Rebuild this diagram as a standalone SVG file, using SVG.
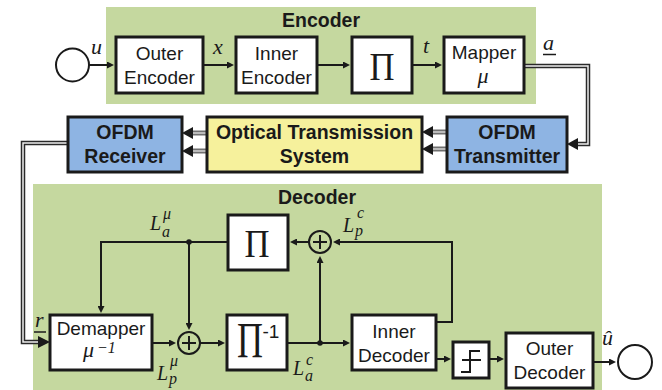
<svg xmlns="http://www.w3.org/2000/svg" width="662" height="390" viewBox="0 0 662 390">
<defs>
<style>
.bg{fill:#c5d89f;stroke:none}
.box{fill:#fff;stroke:#1a1a1a;stroke-width:3}
.blue{fill:#8eb4e3;stroke:#1a1a1a;stroke-width:3}
.yel{fill:#f6f19c;stroke:#1a1a1a;stroke-width:3}
.ln{fill:none;stroke:#1a1a1a;stroke-width:2}
.dbo{fill:none;stroke:#2a2a2a;stroke-width:4.5}
.dbi{fill:none;stroke:#eeeeee;stroke-width:1.5}
.gro{fill:none;stroke:#707070;stroke-width:5}
.gri{fill:none;stroke:#d4d4d4;stroke-width:1.5}
.t{font-family:"Liberation Sans",Arial,sans-serif;font-size:19px;fill:#1a1a1a;text-anchor:middle}
.b{font-family:"Liberation Sans",Arial,sans-serif;font-size:19.5px;font-weight:bold;fill:#1a1a1a;text-anchor:middle}
.m{font-family:"Liberation Serif","Times New Roman",serif;font-style:italic;font-size:22px;fill:#1a1a1a}
.L{font-family:"Liberation Serif","Times New Roman",serif;font-style:italic;font-size:20px;fill:#1a1a1a}
.ms{font-family:"Liberation Serif","Times New Roman",serif;font-style:italic;font-size:16px;fill:#1a1a1a}
.pi{font-family:"Liberation Serif","Times New Roman",serif;fill:#1a1a1a;text-anchor:middle}
</style>
<marker id="ar" viewBox="0 0 10 10" refX="0" refY="5" markerWidth="9" markerHeight="7" markerUnits="userSpaceOnUse" orient="auto"><path d="M0,0L10,5L0,10z" fill="#1a1a1a"/></marker>
</defs>

<rect class="bg" x="106" y="7" width="430" height="97"/>
<rect class="bg" x="33" y="184" width="569" height="206"/>
<text class="b" x="321" y="27">Encoder</text>
<text class="b" x="317" y="204">Decoder</text>

<g id="connectors">
<path class="ln" d="M89,65H107" marker-end="url(#ar)"/>
<path class="ln" d="M203,65H227" marker-end="url(#ar)"/>
<path class="ln" d="M317,65H343" marker-end="url(#ar)"/>
<path class="ln" d="M412,65H435" marker-end="url(#ar)"/>
<path class="dbo" d="M524,66H588V144H578"/>
<path class="dbi" d="M524,66H588V144H578"/>
<polygon points="578,138 567,144 578,150" fill="#1a1a1a"/>
<path class="gro" d="M447,132H433M447,149H433M207,133H193M207,151H193"/>
<path class="gri" d="M447,132H433M447,149H433M207,133H193M207,151H193"/>
<polygon points="433,126 422,132 433,138" fill="#1a1a1a"/>
<polygon points="433,143 422,149 433,155" fill="#1a1a1a"/>
<polygon points="193,127 182,133 193,139" fill="#1a1a1a"/>
<polygon points="193,145 182,151 193,157" fill="#1a1a1a"/>
<path class="dbo" d="M68,143H23V342H39"/>
<path class="dbi" d="M68,143H23V342H39"/>
<polygon points="38,336 50,342 38,348" fill="#1a1a1a"/>
<path class="ln" d="M152,343H169" marker-end="url(#ar)"/>
<path class="ln" d="M200,343H218" marker-end="url(#ar)"/>
<path class="ln" d="M287,343H343" marker-end="url(#ar)"/>
<path class="ln" d="M320,343V263" marker-end="url(#ar)"/>
<path class="ln" d="M436,322H452V242H340" marker-end="url(#ar)"/>
<path class="ln" d="M309,242H297" marker-end="url(#ar)"/>
<path class="ln" d="M228,242H101V306" marker-end="url(#ar)"/>
<path class="ln" d="M189,242V323" marker-end="url(#ar)"/>
<circle cx="189" cy="242" r="2.8" fill="#1a1a1a"/>
<circle cx="320" cy="343" r="2.8" fill="#1a1a1a"/>
<path class="ln" d="M436,359H444" marker-end="url(#ar)"/>
<path class="ln" d="M489,359H497" marker-end="url(#ar)"/>
<path class="ln" d="M593,362H609" marker-end="url(#ar)"/>
</g>

<g id="source"><circle cx="72.5" cy="65" r="16.5" fill="#fff" stroke="#1a1a1a" stroke-width="2"/></g>
<g id="outer-encoder"><rect class="box" x="116" y="37" width="87" height="56"/><text class="t" x="159.5" y="60">Outer</text><text class="t" x="159.5" y="84">Encoder</text></g>
<g id="inner-encoder"><rect class="box" x="236" y="37" width="81" height="56"/><text class="t" x="276.5" y="60">Inner</text><text class="t" x="276.5" y="84">Encoder</text></g>
<g id="interleaver"><rect class="box" x="352" y="37" width="60" height="56"/><text class="pi" x="382" y="80" font-size="40" textLength="25" lengthAdjust="spacingAndGlyphs">Π</text></g>
<g id="mapper"><rect class="box" x="444" y="37" width="80" height="56"/><text class="t" x="484" y="59">Mapper</text><text class="m" x="483" y="83" text-anchor="middle" font-size="23">μ</text></g>
<g id="ofdm-tx"><rect class="blue" x="447" y="117" width="120" height="55"/><text class="b" x="507" y="139">OFDM</text><text class="b" x="507" y="163">Transmitter</text></g>
<g id="optical"><rect class="yel" x="207" y="117" width="215" height="55"/><text class="b" x="314.5" y="139">Optical Transmission</text><text class="b" x="314.5" y="163">System</text></g>
<g id="ofdm-rx"><rect class="blue" x="68" y="117" width="114" height="55"/><text class="b" x="125" y="139">OFDM</text><text class="b" x="125" y="163">Receiver</text></g>
<g id="demapper"><rect class="box" x="50" y="315" width="102" height="55"/><text class="t" x="101" y="335">Demapper</text><text class="m" x="83" y="357" font-size="25">μ</text><text class="ms" x="97" y="353" font-size="16">−1</text></g>
<g id="sum1"><circle cx="189" cy="343" r="11" fill="none" stroke="#1a1a1a" stroke-width="2"/><path class="ln" d="M182,343H196M189,336V350"/></g>
<g id="sum2"><circle cx="320" cy="242" r="11" fill="none" stroke="#1a1a1a" stroke-width="2"/><path class="ln" d="M313,242H327M320,235V249"/></g>
<g id="interleaver-dec"><rect class="box" x="228" y="215" width="60" height="55"/><text class="pi" x="257" y="257" font-size="40" textLength="25" lengthAdjust="spacingAndGlyphs">Π</text></g>
<g id="deinterleaver"><rect class="box" x="227" y="315" width="60" height="55"/><text class="pi" transform="translate(250,357) scale(0.72,1)" x="0" y="0" font-size="50">Π</text><text class="t" x="271" y="338" font-size="16" text-anchor="start">-1</text></g>
<g id="inner-decoder"><rect class="box" x="352" y="315" width="84" height="55"/><text class="t" x="394" y="338">Inner</text><text class="t" x="394" y="362">Decoder</text></g>
<g id="hard-decision"><rect class="box" x="453" y="342" width="36" height="36" stroke-width="2.5"/><path class="ln" d="M461,372H470V351H480M462,360H481"/></g>
<g id="outer-decoder"><rect class="box" x="506" y="333" width="87" height="55"/><text class="t" x="549.5" y="355">Outer</text><text class="t" x="549.5" y="379">Decoder</text></g>
<g id="sink"><circle cx="635" cy="362" r="17" fill="#fff" stroke="#1a1a1a" stroke-width="2"/></g>

<g id="labels">
<text class="m" x="91" y="54">u</text>
<text class="m" x="213" y="54">x</text>
<text class="m" x="423" y="53">t</text>
<text class="m" x="543" y="50">a</text>
<path d="M543,54.5H556" stroke="#1a1a1a" stroke-width="1.5"/>
<text class="m" x="35" y="327">r</text>
<path d="M34,332H46" stroke="#1a1a1a" stroke-width="1.5"/>
<text class="m" x="602" y="345">û</text>
<text class="L" x="150" y="230">L</text><text class="ms" x="162" y="237">a</text><text class="ms" x="163" y="219">μ</text>
<text class="L" x="157" y="380">L</text><text class="ms" x="169" y="384">p</text><text class="ms" x="170" y="366">μ</text>
<text class="L" x="293" y="375">L</text><text class="ms" x="305" y="381">a</text><text class="ms" x="306" y="365">c</text>
<text class="L" x="343" y="232">L</text><text class="ms" x="355" y="236">p</text><text class="ms" x="357" y="218">c</text>
</g>
</svg>
